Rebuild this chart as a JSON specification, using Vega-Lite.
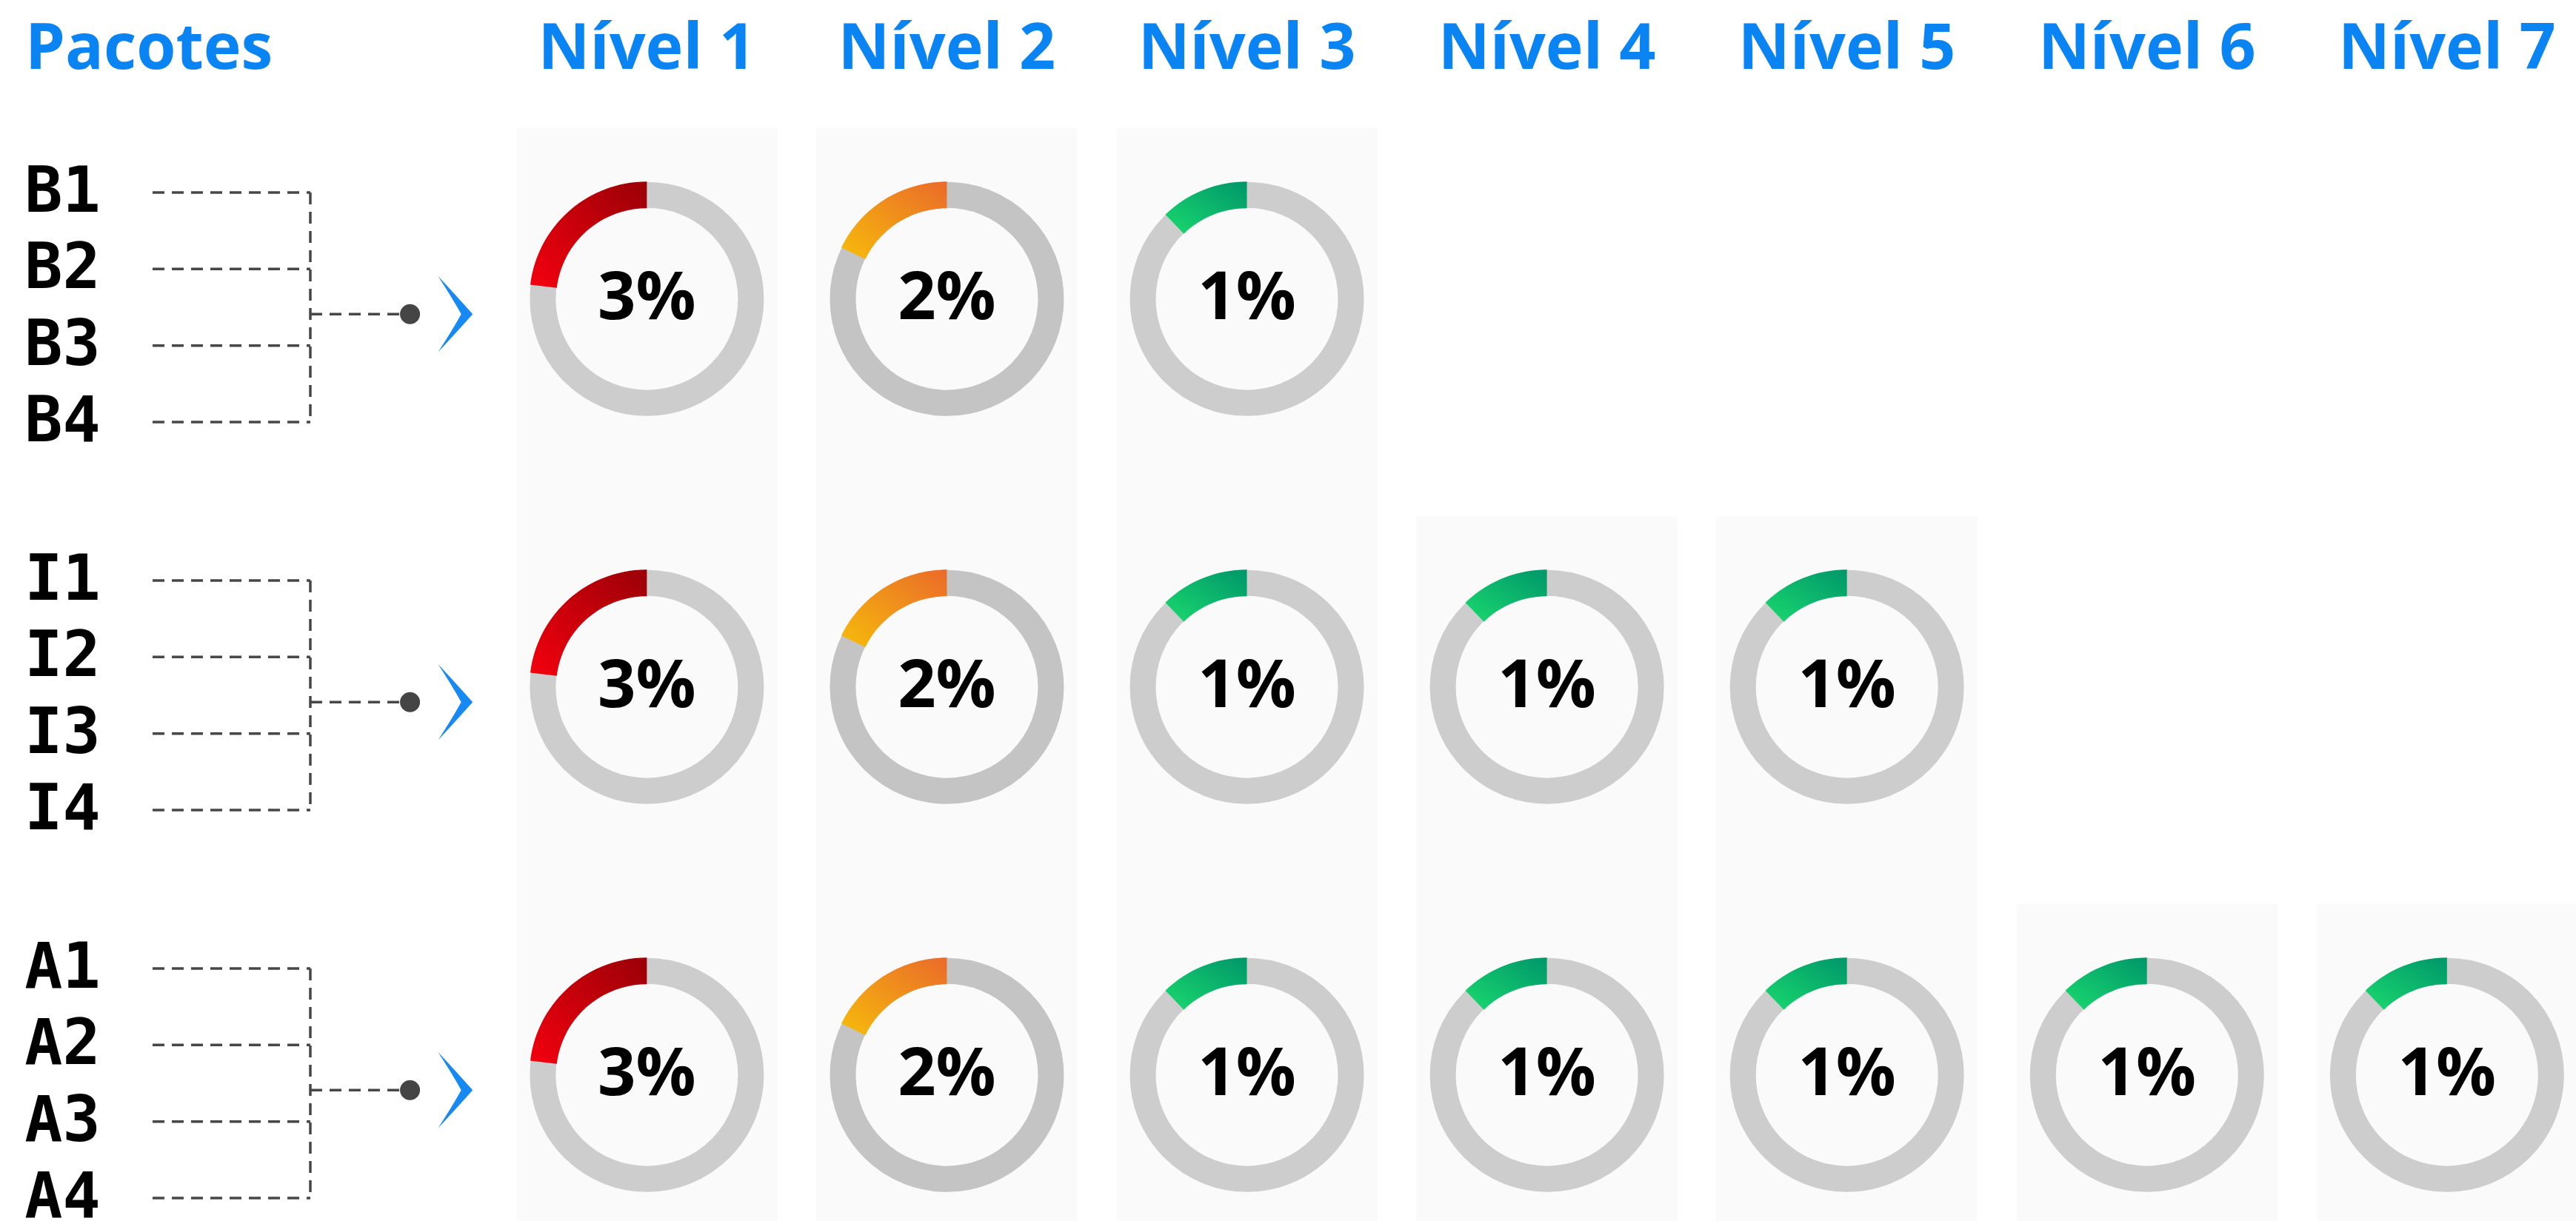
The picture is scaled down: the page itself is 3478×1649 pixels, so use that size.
{
  "$schema": "https://vega.github.io/schema/vega-lite/v6.json",
  "width": 3478,
  "height": 1649,
  "autosize": {"type": "none"},
  "padding": 0,
  "background": "#FFFFFF",
  "config": {"view": {"stroke": null}},
  "datasets": {
    "heading": [{"title": "Pacotes"}],
    "levels": [
      {"level": 1, "title": "Nível 1"}, {"level": 2, "title": "Nível 2"}, {"level": 3, "title": "Nível 3"},
      {"level": 4, "title": "Nível 4"}, {"level": 5, "title": "Nível 5"}, {"level": 6, "title": "Nível 6"},
      {"level": 7, "title": "Nível 7"}
    ],
    "panels": [
      {"level": 1, "first": "B"}, {"level": 2, "first": "B"}, {"level": 3, "first": "B"},
      {"level": 4, "first": "I"}, {"level": 5, "first": "I"}, {"level": 6, "first": "A"}, {"level": 7, "first": "A"}
    ],
    "groups": [{"grp": "B"}, {"grp": "I"}, {"grp": "A"}],
    "items": [
      {"grp": "B", "item": 1, "label": "B1"}, {"grp": "B", "item": 2, "label": "B2"},
      {"grp": "B", "item": 3, "label": "B3"}, {"grp": "B", "item": 4, "label": "B4"},
      {"grp": "I", "item": 1, "label": "I1"}, {"grp": "I", "item": 2, "label": "I2"},
      {"grp": "I", "item": 3, "label": "I3"}, {"grp": "I", "item": 4, "label": "I4"},
      {"grp": "A", "item": 1, "label": "A1"}, {"grp": "A", "item": 2, "label": "A2"},
      {"grp": "A", "item": 3, "label": "A3"}, {"grp": "A", "item": 4, "label": "A4"}
    ],
    "donuts": [
      {"grp": "B", "level": 1, "label": "3%", "faixa": "alta", "sweep": 83},
      {"grp": "B", "level": 2, "label": "2%", "faixa": "media", "sweep": 64},
      {"grp": "B", "level": 3, "label": "1%", "faixa": "baixa", "sweep": 44},
      {"grp": "I", "level": 1, "label": "3%", "faixa": "alta", "sweep": 83},
      {"grp": "I", "level": 2, "label": "2%", "faixa": "media", "sweep": 64},
      {"grp": "I", "level": 3, "label": "1%", "faixa": "baixa", "sweep": 44},
      {"grp": "I", "level": 4, "label": "1%", "faixa": "baixa", "sweep": 44},
      {"grp": "I", "level": 5, "label": "1%", "faixa": "baixa", "sweep": 44},
      {"grp": "A", "level": 1, "label": "3%", "faixa": "alta", "sweep": 83},
      {"grp": "A", "level": 2, "label": "2%", "faixa": "media", "sweep": 64},
      {"grp": "A", "level": 3, "label": "1%", "faixa": "baixa", "sweep": 44},
      {"grp": "A", "level": 4, "label": "1%", "faixa": "baixa", "sweep": 44},
      {"grp": "A", "level": 5, "label": "1%", "faixa": "baixa", "sweep": 44},
      {"grp": "A", "level": 6, "label": "1%", "faixa": "baixa", "sweep": 44},
      {"grp": "A", "level": 7, "label": "1%", "faixa": "baixa", "sweep": 44}
    ]
  },
  "layer": [
    {
      "data": {"name": "panels"},
      "mark": {"type": "rule", "strokeWidth": 352, "color": "#FAFAFA", "strokeCap": "butt"},
      "encoding": {
        "x": {"field": "level", "type": "quantitative", "scale": {"domain": [-1.156, 7.43], "range": [0, 3478], "zero": false, "nice": false}, "axis": null},
        "y": {"field": "first", "type": "nominal", "bandPosition": 0.05, "scale": {"type": "band", "domain": ["H", "B", "I", "A"], "range": [-377, 1719], "paddingInner": 0, "paddingOuter": 0}, "axis": null},
        "y2": {"value": "height"}
      }
    },
    {
      "data": {"name": "donuts"},
      "mark": {"type": "point", "shape": "circle", "filled": false, "size": 78961, "strokeWidth": 35, "opacity": 1},
      "encoding": {
        "x": {"field": "level", "type": "quantitative", "scale": {"domain": [-1.156, 7.43], "range": [0, 3478], "zero": false, "nice": false}, "axis": null},
        "y": {"field": "grp", "type": "nominal", "bandPosition": 0.49, "scale": {"type": "band", "domain": ["H", "B", "I", "A"], "range": [-377, 1719], "paddingInner": 0, "paddingOuter": 0}, "axis": null},
        "color": {"condition": {"test": "datum.level === 2", "value": "#C4C4C4"}, "value": "#CDCDCD"}
      }
    },
    {
      "data": {"name": "donuts"},
      "transform": [{"filter": "datum.faixa === 'alta'"}],
      "mark": {"type": "point", "filled": true, "size": 100489, "opacity": 1, "strokeWidth": 0, "fill": {"gradient": "linear", "x1": 1, "y1": 0, "x2": 0, "y2": 1, "stops": [{"offset": 0, "color": "#9A0007"}, {"offset": 1, "color": "#F4000E"}]}},
      "encoding": {
        "x": {"field": "level", "type": "quantitative", "scale": {"domain": [-1.156, 7.43], "range": [0, 3478], "zero": false, "nice": false}, "axis": null},
        "y": {"field": "grp", "type": "nominal", "bandPosition": 0.49, "scale": {"type": "band", "domain": ["H", "B", "I", "A"], "range": [-377, 1719], "paddingInner": 0, "paddingOuter": 0}, "axis": null},
        "shape": {"field": "sweep", "type": "nominal", "legend": null, "scale": {"domain": [83, 64, 44], "range": ["M 0 -1 A 1 1 0 0 0 -0.99255 -0.12187 L -0.76714 -0.09419 A 0.7729 0.7729 0 0 1 0 -0.7729 Z", "M 0 -1 A 1 1 0 0 0 -0.89879 -0.43837 L -0.69468 -0.33882 A 0.7729 0.7729 0 0 1 0 -0.7729 Z", "M 0 -1 A 1 1 0 0 0 -0.69466 -0.71934 L -0.5369 -0.55598 A 0.7729 0.7729 0 0 1 0 -0.7729 Z"]}}
      }
    },
    {
      "data": {"name": "donuts"},
      "transform": [{"filter": "datum.faixa === 'media'"}],
      "mark": {"type": "point", "filled": true, "size": 100489, "opacity": 1, "strokeWidth": 0, "fill": {"gradient": "linear", "x1": 1, "y1": 0, "x2": 0, "y2": 1, "stops": [{"offset": 0, "color": "#EA6A2A"}, {"offset": 1, "color": "#F6BC0A"}]}},
      "encoding": {
        "x": {"field": "level", "type": "quantitative", "scale": {"domain": [-1.156, 7.43], "range": [0, 3478], "zero": false, "nice": false}, "axis": null},
        "y": {"field": "grp", "type": "nominal", "bandPosition": 0.49, "scale": {"type": "band", "domain": ["H", "B", "I", "A"], "range": [-377, 1719], "paddingInner": 0, "paddingOuter": 0}, "axis": null},
        "shape": {"field": "sweep", "type": "nominal", "legend": null, "scale": {"domain": [83, 64, 44], "range": ["M 0 -1 A 1 1 0 0 0 -0.99255 -0.12187 L -0.76714 -0.09419 A 0.7729 0.7729 0 0 1 0 -0.7729 Z", "M 0 -1 A 1 1 0 0 0 -0.89879 -0.43837 L -0.69468 -0.33882 A 0.7729 0.7729 0 0 1 0 -0.7729 Z", "M 0 -1 A 1 1 0 0 0 -0.69466 -0.71934 L -0.5369 -0.55598 A 0.7729 0.7729 0 0 1 0 -0.7729 Z"]}}
      }
    },
    {
      "data": {"name": "donuts"},
      "transform": [{"filter": "datum.faixa === 'baixa'"}],
      "mark": {"type": "point", "filled": true, "size": 100489, "opacity": 1, "strokeWidth": 0, "fill": {"gradient": "linear", "x1": 1, "y1": 0, "x2": 0, "y2": 1, "stops": [{"offset": 0, "color": "#00966A"}, {"offset": 1, "color": "#1AD96E"}]}},
      "encoding": {
        "x": {"field": "level", "type": "quantitative", "scale": {"domain": [-1.156, 7.43], "range": [0, 3478], "zero": false, "nice": false}, "axis": null},
        "y": {"field": "grp", "type": "nominal", "bandPosition": 0.49, "scale": {"type": "band", "domain": ["H", "B", "I", "A"], "range": [-377, 1719], "paddingInner": 0, "paddingOuter": 0}, "axis": null},
        "shape": {"field": "sweep", "type": "nominal", "legend": null, "scale": {"domain": [83, 64, 44], "range": ["M 0 -1 A 1 1 0 0 0 -0.99255 -0.12187 L -0.76714 -0.09419 A 0.7729 0.7729 0 0 1 0 -0.7729 Z", "M 0 -1 A 1 1 0 0 0 -0.89879 -0.43837 L -0.69468 -0.33882 A 0.7729 0.7729 0 0 1 0 -0.7729 Z", "M 0 -1 A 1 1 0 0 0 -0.69466 -0.71934 L -0.5369 -0.55598 A 0.7729 0.7729 0 0 1 0 -0.7729 Z"]}}
      }
    },
    {
      "data": {"name": "donuts"},
      "mark": {"type": "text", "font": "Open Sans", "fontWeight": "bold", "fontSize": 90, "color": "#000000", "align": "center", "baseline": "middle"},
      "encoding": {
        "x": {"field": "level", "type": "quantitative", "scale": {"domain": [-1.156, 7.43], "range": [0, 3478], "zero": false, "nice": false}, "axis": null},
        "y": {"field": "grp", "type": "nominal", "bandPosition": 0.49, "scale": {"type": "band", "domain": ["H", "B", "I", "A"], "range": [-377, 1719], "paddingInner": 0, "paddingOuter": 0}, "axis": null},
        "text": {"field": "label"}
      }
    },
    {
      "data": {"name": "levels"},
      "mark": {"type": "text", "font": "Open Sans", "fontWeight": "bold", "fontSize": 86, "color": "#0B84F3", "align": "center", "baseline": "alphabetic"},
      "encoding": {
        "x": {"field": "level", "type": "quantitative", "scale": {"domain": [-1.156, 7.43], "range": [0, 3478], "zero": false, "nice": false}, "axis": null},
        "y": {"datum": "H", "type": "nominal", "bandPosition": 0.8975, "scale": {"type": "band", "domain": ["H", "B", "I", "A"], "range": [-377, 1719], "paddingInner": 0, "paddingOuter": 0}, "axis": null},
        "text": {"field": "title"}
      }
    },
    {
      "data": {"name": "heading"},
      "mark": {"type": "text", "font": "Open Sans", "fontWeight": "bold", "fontSize": 86, "color": "#0B84F3", "align": "left", "baseline": "alphabetic"},
      "encoding": {
        "x": {"datum": -1.072, "type": "quantitative", "scale": {"domain": [-1.156, 7.43], "range": [0, 3478], "zero": false, "nice": false}, "axis": null},
        "y": {"datum": "H", "type": "nominal", "bandPosition": 0.8975, "scale": {"type": "band", "domain": ["H", "B", "I", "A"], "range": [-377, 1719], "paddingInner": 0, "paddingOuter": 0}, "axis": null},
        "text": {"field": "title"}
      }
    },
    {
      "data": {"name": "items"},
      "mark": {"type": "text", "font": "DejaVu Sans Mono", "fontWeight": "bold", "fontSize": 85, "color": "#000000", "align": "left", "baseline": "middle"},
      "encoding": {
        "x": {"datum": -1.074, "type": "quantitative", "scale": {"domain": [-1.156, 7.43], "range": [0, 3478], "zero": false, "nice": false}, "axis": null},
        "y": {"field": "grp", "type": "nominal", "scale": {"type": "band", "domain": ["H", "B", "I", "A"], "range": [-377, 1719], "paddingInner": 0, "paddingOuter": 0}, "axis": null},
        "yOffset": {"field": "item", "type": "ordinal", "scale": {"type": "point", "domain": [1, 2, 3, 4], "range": [113, 423], "padding": 0}},
        "text": {"field": "label"}
      }
    },
    {
      "data": {"name": "items"},
      "mark": {"type": "rule", "strokeWidth": 3.5, "strokeDash": [16, 10], "color": "#474747"},
      "encoding": {
        "x": {"datum": -0.6475, "type": "quantitative", "scale": {"domain": [-1.156, 7.43], "range": [0, 3478], "zero": false, "nice": false}, "axis": null},
        "x2": {"datum": -0.1217},
        "y": {"field": "grp", "type": "nominal", "scale": {"type": "band", "domain": ["H", "B", "I", "A"], "range": [-377, 1719], "paddingInner": 0, "paddingOuter": 0}, "axis": null},
        "yOffset": {"field": "item", "type": "ordinal", "scale": {"type": "point", "domain": [1, 2, 3, 4], "range": [110, 420], "padding": 0}}
      }
    },
    {
      "data": {"name": "items"},
      "mark": {"type": "line", "strokeWidth": 3.5, "strokeDash": [16, 10], "color": "#474747"},
      "encoding": {
        "x": {"datum": -0.1217, "type": "quantitative", "scale": {"domain": [-1.156, 7.43], "range": [0, 3478], "zero": false, "nice": false}, "axis": null},
        "y": {"field": "grp", "type": "nominal", "scale": {"type": "band", "domain": ["H", "B", "I", "A"], "range": [-377, 1719], "paddingInner": 0, "paddingOuter": 0}, "axis": null},
        "yOffset": {"field": "item", "type": "ordinal", "scale": {"type": "point", "domain": [1, 2, 3, 4], "range": [110, 420], "padding": 0}},
        "detail": {"field": "grp"}
      }
    },
    {
      "data": {"name": "groups"},
      "mark": {"type": "rule", "strokeWidth": 3.5, "strokeDash": [16, 10], "color": "#474747"},
      "encoding": {
        "x": {"datum": -0.1217, "type": "quantitative", "scale": {"domain": [-1.156, 7.43], "range": [0, 3478], "zero": false, "nice": false}, "axis": null},
        "x2": {"datum": 0.2106},
        "y": {"field": "grp", "type": "nominal", "bandPosition": 0.529, "scale": {"type": "band", "domain": ["H", "B", "I", "A"], "range": [-377, 1719], "paddingInner": 0, "paddingOuter": 0}, "axis": null}
      }
    },
    {
      "data": {"name": "groups"},
      "mark": {"type": "point", "shape": "circle", "filled": true, "size": 730, "color": "#454545", "opacity": 1},
      "encoding": {
        "x": {"datum": 0.2106, "type": "quantitative", "scale": {"domain": [-1.156, 7.43], "range": [0, 3478], "zero": false, "nice": false}, "axis": null},
        "y": {"field": "grp", "type": "nominal", "bandPosition": 0.529, "scale": {"type": "band", "domain": ["H", "B", "I", "A"], "range": [-377, 1719], "paddingInner": 0, "paddingOuter": 0}, "axis": null}
      }
    },
    {
      "data": {"name": "groups"},
      "mark": {"type": "point", "shape": "M -0.46 -1 Q 0.05 -0.45 0.45 0 Q 0.05 0.45 -0.46 1 Q -0.1 0.45 0.15 0 Q -0.1 -0.45 -0.46 -1 Z", "filled": true, "size": 10609, "color": "#1689F2", "opacity": 1},
      "encoding": {
        "x": {"datum": 0.3622, "type": "quantitative", "scale": {"domain": [-1.156, 7.43], "range": [0, 3478], "zero": false, "nice": false}, "axis": null},
        "y": {"field": "grp", "type": "nominal", "bandPosition": 0.529, "scale": {"type": "band", "domain": ["H", "B", "I", "A"], "range": [-377, 1719], "paddingInner": 0, "paddingOuter": 0}, "axis": null}
      }
    }
  ]
}
